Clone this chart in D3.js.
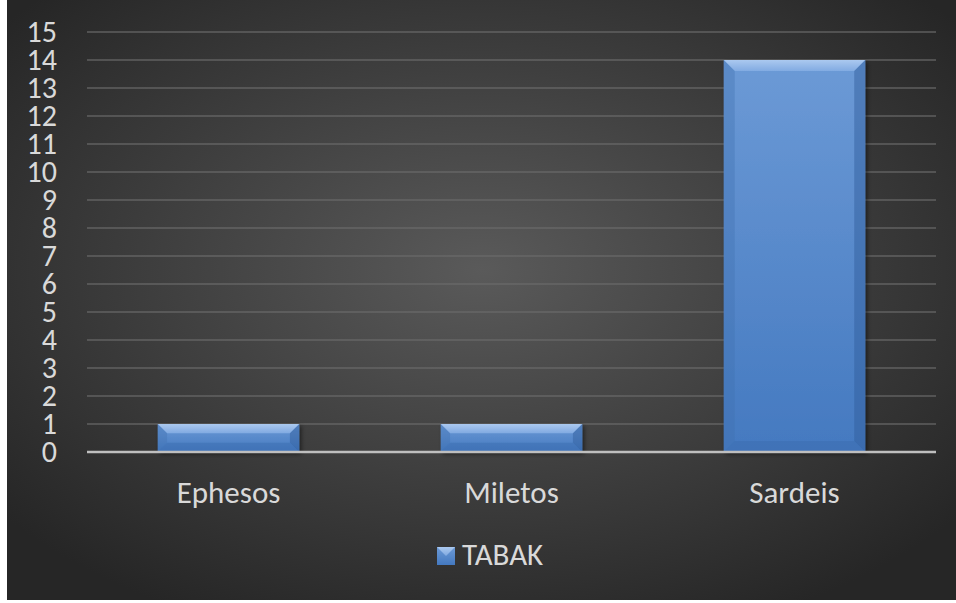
<!DOCTYPE html>
<html>
<head>
<meta charset="utf-8">
<script src="https://cdn.jsdelivr.net/npm/d3@7"></script>
<style>
  html, body { margin: 0; padding: 0; background: #fff; }
  svg { display: block; }
</style>
</head>
<body>
<svg width="956" height="603"></svg>
<script>
const categories = ['Ephesos', 'Miletos', 'Sardeis'];
const values = [1, 1, 14];
const seriesName = 'TABAK';
const yTicks = d3.range(0, 16);

const svg = d3.select('svg');
const defs = svg.append('defs');

// background: dark radial gradient
const bg = defs.append('radialGradient').attr('id', 'bg')
  .attr('cx', '50%').attr('cy', '45%').attr('r', '65%');
bg.append('stop').attr('offset', '0%').attr('stop-color', '#5a5a5a');
bg.append('stop').attr('offset', '100%').attr('stop-color', '#262626');

const barGrad = defs.append('linearGradient').attr('id', 'barGrad')
  .attr('x1', 0).attr('y1', 0).attr('x2', 0).attr('y2', 1);
barGrad.append('stop').attr('offset', '0%').attr('stop-color', '#6c9ad6');
barGrad.append('stop').attr('offset', '100%').attr('stop-color', '#4479c0');

const topGrad = defs.append('linearGradient').attr('id', 'topGrad')
  .attr('x1', 0).attr('y1', 0).attr('x2', 0).attr('y2', 1);
topGrad.append('stop').attr('offset', '0%').attr('stop-color', '#b6d1f4');
topGrad.append('stop').attr('offset', '100%').attr('stop-color', '#86aee4');

const shadow = defs.append('filter').attr('id', 'shadow')
  .attr('x', '-10%').attr('y', '-10%').attr('width', '130%').attr('height', '130%');
shadow.append('feDropShadow').attr('dx', 2).attr('dy', 2).attr('stdDeviation', 2)
  .attr('flood-color', '#000').attr('flood-opacity', 0.5);

svg.append('rect').attr('x', 7).attr('y', 0).attr('width', 949).attr('height', 600)
  .attr('fill', 'url(#bg)');

const plotLeft = 87, plotRight = 936, plotTop = 32, plotBottom = 452;

const x = d3.scaleBand().domain(categories).range([plotLeft, plotRight]).paddingInner(0.5).paddingOuter(0.25);
const y = d3.scaleLinear().domain([0, 15]).range([plotBottom, plotTop]);

const font = 'Calibri, Carlito, "Open Sans", Lato, sans-serif';

// gridlines
svg.append('g').selectAll('line').data(yTicks.filter(d => d > 0)).join('line')
  .attr('x1', plotLeft).attr('x2', plotRight)
  .attr('y1', d => y(d)).attr('y2', d => y(d))
  .attr('stroke', '#6b6b6b').attr('stroke-width', 1.3).attr('opacity', 0.8);

// y axis labels
const yAxis = svg.append('g').attr('transform', `translate(${plotLeft - 30},0)`)
  .call(d3.axisLeft(y).tickValues(yTicks).tickSize(0).tickPadding(0));
yAxis.select('.domain').remove();
yAxis.selectAll('text').attr('fill', '#d9d9d9').style('font-family', font)
  .style('font-size', '30px').attr('dy', '0.32em');

// bars with bevel
const bars = svg.append('g').selectAll('g').data(values).join('g')
  .attr('transform', (d, i) => `translate(${x(categories[i])},${y(d)})`);

bars.each(function (d) {
  const g = d3.select(this);
  const w = x.bandwidth();
  const h = y(0) - y(d);
  const b = Math.min(11, h / 3);
  g.append('rect').attr('width', w).attr('height', h).attr('fill', 'url(#barGrad)')
    .attr('filter', 'url(#shadow)');
  // top bevel
  g.append('polygon').attr('points', `0,0 ${w},0 ${w - b},${b} ${b},${b}`)
    .attr('fill', 'url(#topGrad)').attr('opacity', 0.85);
  // left bevel
  g.append('polygon').attr('points', `0,0 ${b},${b} ${b},${h - b} 0,${h}`)
    .attr('fill', '#3f6fb0').attr('opacity', 0.35);
  // right bevel
  g.append('polygon').attr('points', `${w},0 ${w - b},${b} ${w - b},${h - b} ${w},${h}`)
    .attr('fill', '#2f5a98').attr('opacity', 0.45);
  // bottom bevel
  g.append('polygon').attr('points', `0,${h} ${b},${h - b} ${w - b},${h - b} ${w},${h}`)
    .attr('fill', '#3a6aae').attr('opacity', 0.45);
});

// x axis line
svg.append('line').attr('x1', plotLeft).attr('x2', plotRight).attr('y1', plotBottom).attr('y2', plotBottom)
  .attr('stroke', '#bfbfbf').attr('stroke-width', 2.5);

// x labels
const xAxis = svg.append('g').attr('transform', 'translate(0,503)')
  .call(d3.axisBottom(x).tickSize(0).tickPadding(0));
xAxis.select('.domain').remove();
xAxis.selectAll('text').attr('fill', '#d9d9d9').style('font-family', font)
  .style('font-size', '31px').attr('y', 0).attr('dy', 0);

// legend
const legend = svg.append('g').attr('transform', 'translate(437,547)');
legend.append('rect').attr('width', 18).attr('height', 18).attr('fill', 'url(#barGrad)');
legend.append('polygon').attr('points', '0,0 18,0 9,9').attr('fill', 'url(#topGrad)').attr('opacity', 0.85);
legend.append('text').attr('x', 25).attr('y', 18)
  .attr('fill', '#d9d9d9').style('font-family', font).style('font-size', '31px')
  .text(seriesName);
</script>
</body>
</html>
